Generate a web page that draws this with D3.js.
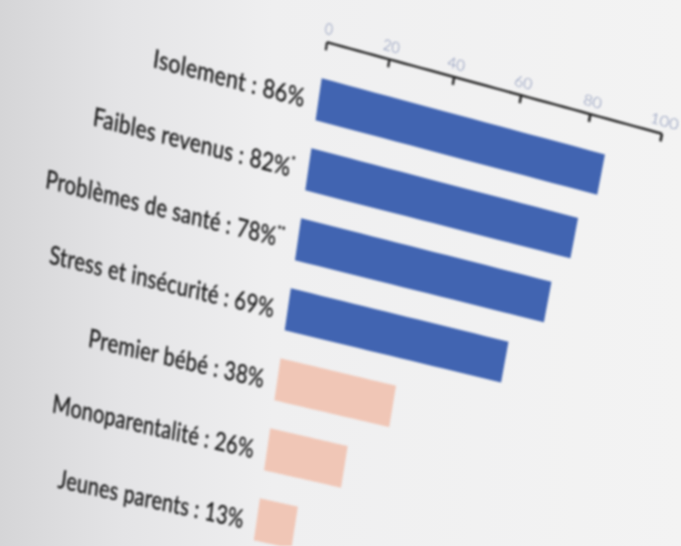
<!DOCTYPE html>
<html lang="fr">
  <head>
    <meta charset="utf-8">
    <title>Facteurs de vulnérabilité</title>
    <script src="https://d3js.org/d3.v7.js"></script>
    <style>
      html, body { margin: 0; padding: 0; }
      body {
        width: 681px; height: 546px; overflow: hidden; position: relative;
        background: linear-gradient(90deg, #d5d5d7 0%, #e4e4e6 18%, #efeff0 40%, #f3f3f3 100%);
      }
      #chart { position: absolute; left: 0; top: 0; filter: blur(0.8px); }
    </style>
  </head>

  <body>
  <svg id="chart"></svg>
  <script>

// data

  var categories = ["Isolement", "Faibles revenus", "Problèmes de santé", "Stress et insécurité",
                    "Premier bébé", "Monoparentalité", "Jeunes parents"];
  var values = [86, 82, 78, 69, 38, 26, 13];
  var notes = ["", "*", "**", "", "", "", ""];
  var groups = ["a", "a", "a", "a", "b", "b", "b"];
  var tickValues = [0, 20, 40, 60, 80, 100];

  var bardata = categories.map((c, i) => ({cat: c, value: values[i], note: notes[i], group: groups[i]}));

// flat layout, then bent into the photo's perspective by proj()

  var w = 681;
  var h = 546;
  var innerWidth = 340;

  var xScale = d3.scaleLinear()
      .domain([0, 100])
      .range([0, innerWidth]);

  var yScale = d3.scaleBand()
      .domain(categories)
      .range([36, 498])
      .paddingInner(0.4);

  var color = d3.scaleOrdinal()
      .domain(["a", "b"])
      .range(["#4164b1", "#f0c6b6"]);

  // photo perspective (page seen from the right, tilted)
  function proj(x, y) {
    var t = x / innerWidth;
    var s = 1.005 - 0.000133 * y;
    var k = 0.273 - 0.000111 * y;
    var off = s * (304.7 * t + 28.6 * t * t);
    return [327 + off - 0.147 * y, 42.3 + y + k * off];
  }

  // local affine frame at a flat point (for text and ticks)
  function frame(ax, ay, jx, jy) {
    var p = proj(ax, ay);
    var q = proj(jx, jy), qx = proj(jx + 1, jy), qy = proj(jx, jy + 1);
    return `matrix(${qx[0] - q[0]},${qx[1] - q[1]},${qy[0] - q[0]},${qy[1] - q[1]},${p[0]},${p[1]})`;
  }

  function edge(x0, y0, x1, y1, n) {
    return d3.range(n + 1).map(k => proj(x0 + (x1 - x0) * k / n, y0 + (y1 - y0) * k / n));
  }

  var svg = d3.select("#chart")
      .attr("width", w)
      .attr("height", h);

// bars

  var line = d3.line();

  svg.selectAll("path.bar")
      .data(bardata)
    .enter().append("path")
      .attr("class", "bar")
      .attr("d", d => {
        var x0 = xScale(0), x1 = xScale(d.value);
        var y0 = yScale(d.cat), y1 = y0 + yScale.bandwidth();
        var pts = edge(x0, y0, x1, y0, 20)
          .concat(edge(x1, y0, x1, y1, 4))
          .concat(edge(x1, y1, x0, y1, 20))
          .concat(edge(x0, y1, x0, y0, 4));
        return line(pts) + "Z";
      })
      .attr("fill", d => color(d.group));

// labels

  var lab = svg.selectAll("text.lab")
      .data(bardata)
    .enter().append("text")
      .attr("class", "lab")
      .attr("x", 0)
      .attr("y", 0)
      .attr("text-anchor", "end")
      .attr("dominant-baseline", "middle")
      .attr("font-family", "Lato, 'Open Sans', sans-serif")
      .attr("font-size", 25)
      .attr("letter-spacing", 0.3)
      .attr("fill", "#181818")
      .attr("stroke", "#181818")
      .attr("stroke-width", 0.35);

  lab.append("tspan").text(d => d.cat + " : " + d.value + "%");
  lab.append("tspan")
      .attr("dy", -9)
      .attr("font-size", 11)
      .text(d => d.note);

  lab.attr("transform", function (d) {
    var ax = xScale(0) - 15;
    var ay = yScale(d.cat) + yScale.bandwidth() / 2 + 5;
    var len = this.getComputedTextLength();
    return frame(ax, ay, ax - len / 2, ay);
  });

// axis on top

  var xAxis = d3.axisTop()
      .scale(xScale)
      .tickValues(tickValues)
      .tickSizeInner(-8)
      .tickSizeOuter(0)
      .tickPadding(8);

  var ax = svg.append("g")
      .attr("class", "xAxis")
      .call(xAxis);

  ax.select(".domain")
      .attr("d", line(edge(xScale(0), 0, xScale(100), 0, 40)))
      .attr("fill", "none")
      .attr("stroke", "#2a2a2a")
      .attr("stroke-width", 2.5);

  ax.selectAll(".tick")
      .attr("transform", d => frame(xScale(d), 0, xScale(d), 0));

  ax.selectAll(".tick line").attr("stroke", "#2a2a2a").attr("stroke-width", 2.5);
  ax.selectAll(".tick text")
      .attr("font-family", "Lato, sans-serif")
      .attr("font-weight", 300)
      .attr("font-size", 15)
      .attr("fill", "#7f8cb3");

  </script>
  </body>
</html>
